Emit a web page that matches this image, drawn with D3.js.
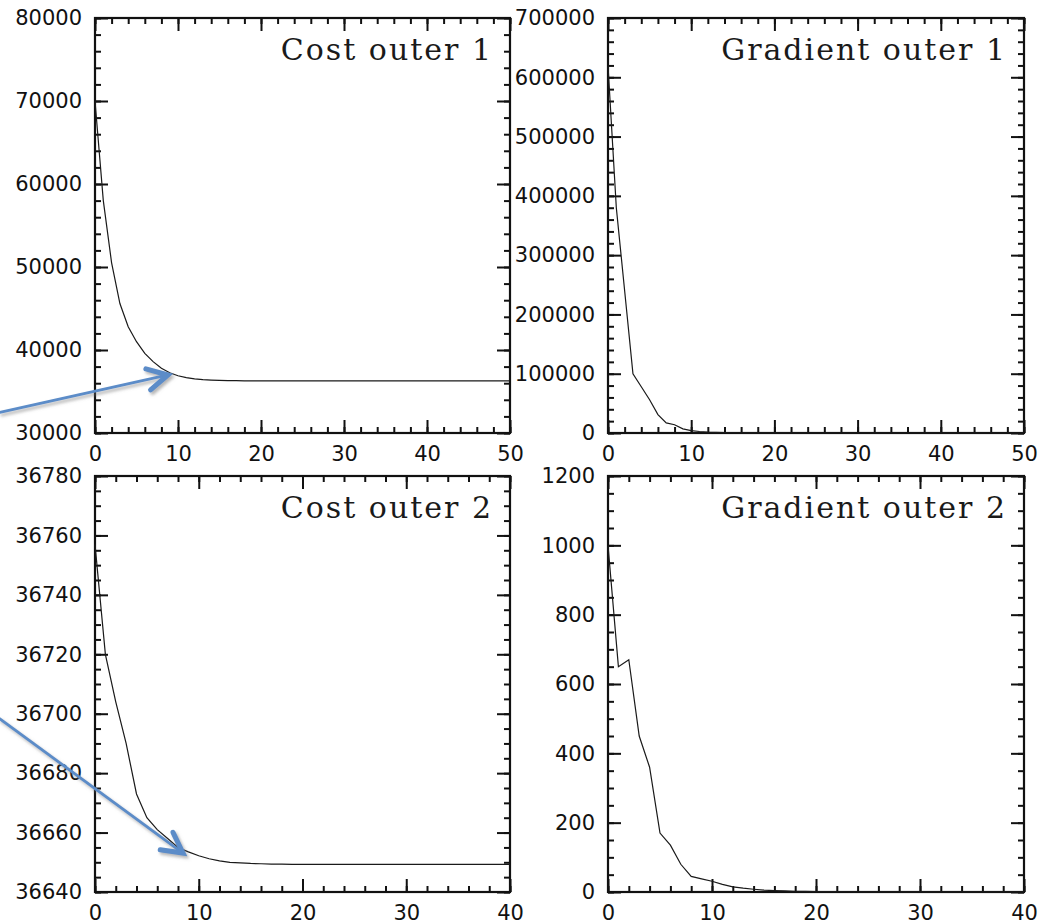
<!DOCTYPE html>
<html>
<head>
<meta charset="utf-8">
<script src="https://cdn.jsdelivr.net/npm/d3@7"></script>
<style>
    body { margin: 0; background: #fff; }
    .axis path { display: none; }
    .axis line { stroke: #111; stroke-width: 2px; }
    .axis text { font-family: "DejaVu Sans", sans-serif; font-size: 21px; fill: #111; }
    .title { font-family: "DejaVu Serif", serif; font-size: 30px; letter-spacing: 2px; fill: #1a1a1a; }
</style>
</head>
<body>
<div id="chart"></div>
<script>
// values per iteration (index = iteration)
let costOuter1 = [70000, 58000, 50500, 45600, 42800, 41000, 39600, 38600, 37800, 37250,
    36900, 36680, 36530, 36440, 36380, 36340, 36315, 36300, 36290, 36285,
    36280, 36278, 36276, 36275, 36274, 36273, 36272, 36272, 36271, 36271,
    36270, 36270, 36270, 36270, 36270, 36270, 36270, 36270, 36270, 36270,
    36270, 36270, 36270, 36270, 36270, 36270, 36270, 36270, 36270, 36270, 36270];

let gradOuter1 = [620000, 380000, 240000, 100000, 78000, 56000, 31000, 17000, 14000, 7000,
    4000, 2500, 1600, 1100, 700, 450, 300, 200, 150, 110,
    80, 60, 45, 35, 28, 22, 18, 15, 12, 10,
    9, 8, 7, 6, 5, 5, 4, 4, 3, 3,
    3, 2, 2, 2, 2, 1, 1, 1, 1, 1, 1];

let costOuter2 = [36757, 36720, 36704, 36690, 36673, 36665, 36661, 36658, 36655, 36653.5,
    36652.2, 36651.2, 36650.5, 36650.0, 36649.8, 36649.6, 36649.5, 36649.4, 36649.35, 36649.3,
    36649.3, 36649.3, 36649.3, 36649.3, 36649.3, 36649.3, 36649.3, 36649.3, 36649.3, 36649.3,
    36649.3, 36649.3, 36649.3, 36649.3, 36649.3, 36649.3, 36649.3, 36649.3, 36649.3, 36649.3, 36649.3];

let gradOuter2 = [1000, 650, 670, 450, 360, 170, 135, 80, 45, 38,
    31, 22, 15, 11, 8, 5.5, 4, 3, 2.2, 1.6,
    1.2, 1, 0.8, 0.7, 0.6, 0.5, 0.4, 0.4, 0.3, 0.3,
    0.3, 0.2, 0.2, 0.2, 0.2, 0.1, 0.1, 0.1, 0.1, 0.1, 0.1];

// tick labels
let ticks50 = [0, 10, 20, 30, 40, 50];
let ticks40 = [0, 10, 20, 30, 40];
let costOuter1Ticks = [30000, 40000, 50000, 60000, 70000, 80000];
let gradOuter1Ticks = [0, 100000, 200000, 300000, 400000, 500000, 600000, 700000];
let costOuter2Ticks = [36640, 36660, 36680, 36700, 36720, 36740, 36760, 36780];
let gradOuter2Ticks = [0, 200, 400, 600, 800, 1000, 1200];

// annotation arrows, in data units of their panel: [start, tip]
let arrowCost1 = [[-11.6, 32450], [8.8, 36990]];
let arrowCost2 = [[-9.3, 36698.6], [8.48, 36653.1]];

let panels = [
    {title: "Cost outer 1", values: costOuter1, xTicks: ticks50, yTicks: costOuter1Ticks,
        xMinor: 2, yMinor: 2000, arrow: arrowCost1, left: 95, top: 18, width: 415, height: 415},
    {title: "Gradient outer 1", values: gradOuter1, xTicks: ticks50, yTicks: gradOuter1Ticks,
        xMinor: 2, yMinor: 20000, arrow: null, left: 608, top: 18, width: 416, height: 415},
    {title: "Cost outer 2", values: costOuter2, xTicks: ticks40, yTicks: costOuter2Ticks,
        xMinor: 2, yMinor: 5, arrow: arrowCost2, left: 95, top: 476, width: 415, height: 416},
    {title: "Gradient outer 2", values: gradOuter2, xTicks: ticks40, yTicks: gradOuter2Ticks,
        xMinor: 2, yMinor: 50, arrow: null, left: 608, top: 476, width: 416, height: 416}
];

let svg = d3.select("#chart").append("svg")
    .attr("width", 1039)
    .attr("height", 924);

let defs = svg.append("defs");
defs.append("filter")
    .attr("id", "shadow")
    .attr("x", "-20%").attr("y", "-50%").attr("width", "140%").attr("height", "200%")
    .append("feDropShadow")
    .attr("dx", 2).attr("dy", 2.5)
    .attr("stdDeviation", 1.6)
    .attr("flood-color", "#777")
    .attr("flood-opacity", 0.55);

let arrowLayer = [];

panels.forEach(function (p) {
    let g = svg.append("g")
        .attr("transform", "translate(" + p.left + "," + p.top + ")");

    let xMax = p.xTicks[p.xTicks.length - 1];
    let x = d3.scaleLinear().domain([0, xMax]).range([0, p.width]);
    let y = d3.scaleLinear()
        .domain([p.yTicks[0], p.yTicks[p.yTicks.length - 1]])
        .range([p.height, 0]);

    let xMinorTicks = d3.range(0, xMax + 0.001, p.xMinor);
    let yMinorTicks = d3.range(y.domain()[0], y.domain()[1] + 0.001, p.yMinor);

    // minor ticks, inward on all four sides
    g.append("g").attr("class", "axis")
        .attr("transform", "translate(0," + p.height + ")")
        .call(d3.axisBottom(x).tickValues(xMinorTicks).tickSize(-6).tickFormat(""));
    g.append("g").attr("class", "axis")
        .call(d3.axisTop(x).tickValues(xMinorTicks).tickSize(-6).tickFormat(""));
    g.append("g").attr("class", "axis")
        .call(d3.axisLeft(y).tickValues(yMinorTicks).tickSize(-6).tickFormat(""));
    g.append("g").attr("class", "axis")
        .attr("transform", "translate(" + p.width + ",0)")
        .call(d3.axisRight(y).tickValues(yMinorTicks).tickSize(-6).tickFormat(""));

    // major ticks with labels on bottom / left
    g.append("g").attr("class", "axis")
        .attr("transform", "translate(0," + p.height + ")")
        .call(d3.axisBottom(x).tickValues(p.xTicks).tickSize(-13).tickPadding(13).tickFormat(d3.format("d")));
    g.append("g").attr("class", "axis")
        .call(d3.axisTop(x).tickValues(p.xTicks).tickSize(-13).tickFormat(""));
    g.append("g").attr("class", "axis")
        .call(d3.axisLeft(y).tickValues(p.yTicks).tickSize(-13).tickPadding(13).tickFormat(d3.format("d")));
    g.append("g").attr("class", "axis")
        .attr("transform", "translate(" + p.width + ",0)")
        .call(d3.axisRight(y).tickValues(p.yTicks).tickSize(-13).tickFormat(""));

    // frame
    g.append("rect")
        .attr("width", p.width)
        .attr("height", p.height)
        .attr("fill", "none")
        .attr("stroke", "#111")
        .attr("stroke-width", 2.2);

    let line = d3.line()
        .x((d, i) => x(i))
        .y(d => y(d));

    g.append("path")
        .datum(p.values)
        .attr("d", line)
        .attr("fill", "none")
        .attr("stroke", "#1a1a1a")
        .attr("stroke-width", 1.2);

    g.append("text")
        .attr("class", "title")
        .attr("x", p.width - 17)
        .attr("y", 42)
        .attr("text-anchor", "end")
        .text(p.title);

    if (p.arrow) {
        arrowLayer.push({
            start: [p.left + x(p.arrow[0][0]), p.top + y(p.arrow[0][1])],
            tip: [p.left + x(p.arrow[1][0]), p.top + y(p.arrow[1][1])]
        });
    }
});

// blue callout arrows drawn on top
let arrows = svg.append("g").attr("filter", "url(#shadow)");
arrowLayer.forEach(function (a) {
    let ang = Math.atan2(a.start[1] - a.tip[1], a.start[0] - a.tip[0]);
    let len = 23, spread = 28 * Math.PI / 180;
    let b1 = [a.tip[0] + len * Math.cos(ang + spread), a.tip[1] + len * Math.sin(ang + spread)];
    let b2 = [a.tip[0] + len * Math.cos(ang - spread), a.tip[1] + len * Math.sin(ang - spread)];

    arrows.append("line")
        .attr("x1", a.start[0]).attr("y1", a.start[1])
        .attr("x2", a.tip[0]).attr("y2", a.tip[1])
        .attr("stroke", "#5b8cc8")
        .attr("stroke-width", 2.8);

    arrows.append("path")
        .attr("d", d3.line()([b1, a.tip, b2]))
        .attr("fill", "none")
        .attr("stroke", "#5b8cc8")
        .attr("stroke-width", 5)
        .attr("stroke-linecap", "round")
        .attr("stroke-linejoin", "miter");
});
</script>
</body>
</html>
